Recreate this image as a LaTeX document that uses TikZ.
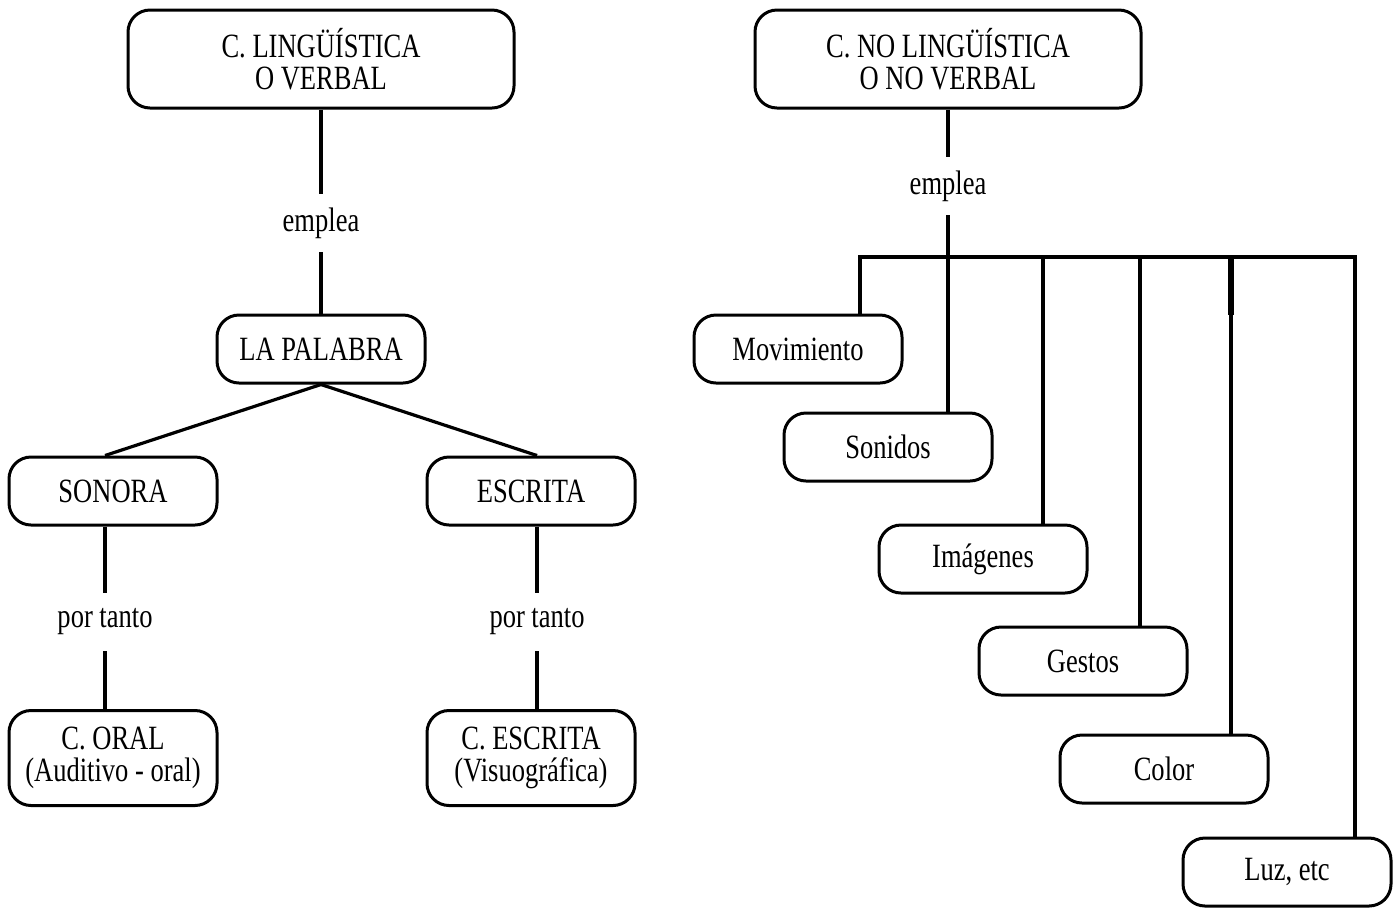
\documentclass[tikz,border=0pt]{standalone}
\usepackage{fontspec}
\setmainfont{Liberation Serif}[FakeStretch=0.78]
\begin{document}
\begin{tikzpicture}[x=0.5pt,y=-0.5pt,
        caja/.style={draw, rounded corners=11pt, line width=1.5pt, align=center, inner sep=0pt,
            minimum width=104pt, minimum height=34pt, font=\fontsize{17}{16}\selectfont},
        cajagrande/.style={caja, minimum width=193pt, minimum height=49pt},
        cajaalta/.style={caja, minimum height=47.5pt},
        nexo/.style={inner sep=0pt, minimum height=29pt, font=\fontsize{17}{16}\selectfont},
        linea/.style={line width=1.6pt}]
        \useasboundingbox (0,0) rectangle (1397,907);

        % comunicacion verbal
        \node[cajagrande] (cl) at (321,59) {C. LINGÜÍSTICA\\O VERBAL};
        \node[nexo] (emp1) at (321,223) {emplea};
        \node[caja] (pal) at (321,349) {LA PALABRA};
        \node[caja] (son) at (113,491) {SONORA};
        \node[caja] (esc) at (531,491) {ESCRITA};
        \node[nexo] (pt1) at (105,622) {por tanto};
        \node[nexo] (pt2) at (537,622) {por tanto};
        \node[cajaalta] (oral) at (113,758) {C. ORAL\\(Auditivo - oral)};
        \node[cajaalta] (cesc) at (531,758) {C. ESCRITA\\(Visuográfica)};

        \path[draw,linea] (cl) -- (emp1) -- (pal);
        \path[draw,linea] (pal.south) -- (son.north -| pt1);
        \path[draw,linea] (pal.south) -- (esc.north -| pt2);
        \path[draw,linea] (son.south -| pt1) -- (pt1) -- (oral.north -| pt1);
        \path[draw,linea] (esc.south -| pt2) -- (pt2) -- (cesc.north -| pt2);

        % comunicacion no verbal
        \node[cajagrande] (cnl) at (948,59) {C. NO LINGÜÍSTICA\\O NO VERBAL};
        \node[nexo] (emp2) at (948,186) {emplea};
        \node[caja] (mov) at (798,349) {Movimiento};
        \node[caja] (soni) at (888,447) {Sonidos};
        \node[caja] (img) at (983,559) {Imágenes};
        \node[caja] (gest) at (1083,661) {Gestos};
        \node[caja] (col) at (1164,769) {Color};
        \node[caja] (luz) at (1287,872) {Luz, etc};

        \coordinate (barizq) at (860,257);
        \coordinate (barder) at (1355,257);
        \path[draw,linea] (cnl) -- (emp2) -- (soni.north -| emp2);
        \path[draw,linea] (mov.north -| barizq) -- (barizq) -- (barder) -- (luz.north -| barder);
        \foreach \n/\x in {img/1043, gest/1140, col/1231}{
            \coordinate (baj\n) at (\x,257);
            \path[draw,linea] (baj\n) -- (\n.north -| baj\n);
        }
        \path[draw,line width=3pt] (bajcol) -- ++(0,58);
    \end{tikzpicture}
\end{document}
